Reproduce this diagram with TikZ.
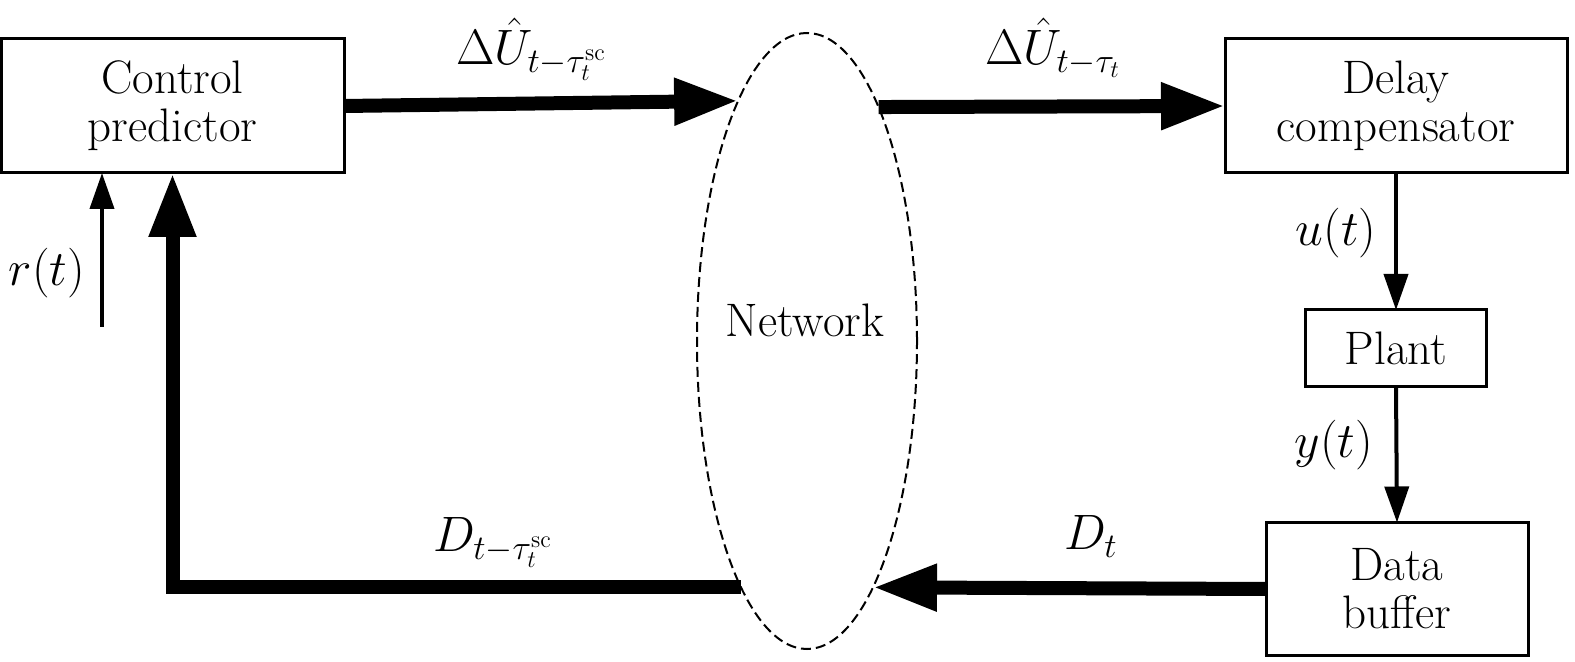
\documentclass[tikz,border=0pt]{standalone}
\usepackage{amsmath}
\usetikzlibrary{arrows.meta}
\usetikzlibrary{shapes.geometric}
\tikzstyle{block}=[draw, line width=1.5pt, inner sep=0, outer sep=0, align=center]
\tikzstyle{netcloud}=[draw, ellipse, dash pattern=on 5pt off 2.5pt, line width=1pt,
  minimum width=110pt, minimum height=308pt, inner sep=0, outer sep=0]
\tikzstyle{bigarrow}=[line width=7pt, -{Triangle[length=32pt,width=22pt]}]
\tikzstyle{smallarrow}=[line width=2pt, -{Triangle[length=18pt,width=12pt]}]
\tikzstyle{sig}=[inner sep=0, outer sep=0]

\begin{document}
\begin{tikzpicture}[x=0.5pt, y=-0.5pt, font=\fontsize{23.5}{24}\selectfont]
          \useasboundingbox (0, 0) rectangle (1575, 662);
          \node[block, minimum width=171.5pt, minimum height=67pt]
            (ctrl) at (172.5, 106) {Control\\predictor};
          \node[block, minimum width=171pt, minimum height=67pt]
            (delay) at (1396, 106) {Delay\\compensator};
          \node[block, minimum width=90.5pt, minimum height=38.5pt]
            (plant) at (1396, 348.5) {Plant};
          \node[block, minimum width=131pt, minimum height=66.5pt]
            (buffer) at (1397, 589) {Data\\buffer};
          \node[netcloud] (net) at (807, 341) {};
          \node[sig] (nettext) at (805, 320) {Network};
          \coordinate (rin) at (102, 327);

          \draw[bigarrow] (ctrl.east) -- (net.106.8);
          \draw[bigarrow] (net.73.4) -- (delay.west);
          \draw[bigarrow] (buffer.west) -- (net.285.3);
          \draw[bigarrow] (net.255.3) -| (ctrl.south);
          \draw[smallarrow] (rin) -- (rin |- ctrl.south);
          \draw[smallarrow] (delay.south) -- (plant.north);
          \draw[smallarrow] (plant.south) -- (buffer.north);

          \node[sig, anchor=base west] (uhat1) at (456, 65)
            {$\Delta\hat{U}_{t-\tau_t^{\mathrm{sc}}}$};
          \node[sig, anchor=base west] (uhat2) at (985, 65)
            {$\Delta\hat{U}_{t-\tau_t}$};
          \node[sig, anchor=base west] (dsc) at (433, 552)
            {$D_{t-\tau_t^{\mathrm{sc}}}$};
          \node[sig, anchor=base west] (dt) at (1064, 550) {$D_t$};
          \node[sig] (rlabel) at (47, 273) {$r(t)$};
          \node[sig] (ulabel) at (1336, 233) {$u(t)$};
          \node[sig] (ylabel) at (1334, 445) {$y(t)$};
        \end{tikzpicture}
\end{document}
